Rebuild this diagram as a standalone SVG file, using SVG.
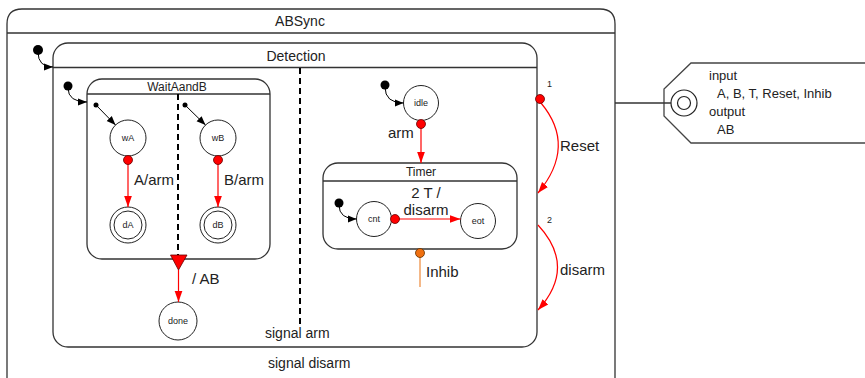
<svg xmlns="http://www.w3.org/2000/svg" width="865" height="378" viewBox="0 0 865 378">
<style>
text{font-family:"Liberation Sans",Arial,sans-serif;fill:#222}
.box{fill:none;stroke:#333;stroke-width:1.3}
.st{fill:#fff;stroke:#222;stroke-width:1}
.lbl{font-size:9px;text-anchor:middle}
.t15{font-size:15px}
.t14{font-size:14px}
.init{fill:#000}
.blk{fill:none;stroke:#000;stroke-width:1}
.red{fill:none;stroke:#f00;stroke-width:1.2}
.rdot{fill:#f00;stroke:#600;stroke-width:0.8}
.dash{stroke:#000;stroke-width:2;stroke-dasharray:6,4}
</style>
<defs>
<marker id="ab" viewBox="0 0 10 10" refX="10" refY="5" markerWidth="9" markerHeight="9" markerUnits="userSpaceOnUse" orient="auto"><path d="M0,1 L10,5 L0,9 z" fill="#000"/></marker>
<marker id="ar" viewBox="0 0 10 10" refX="10" refY="5" markerWidth="11" markerHeight="11" markerUnits="userSpaceOnUse" orient="auto"><path d="M0,1.5 L10,5 L0,8.5 z" fill="#f00"/></marker>
</defs>

<g id="ABSync">
<path class="box" d="M7,390 V24 Q7,9 22,9 H600 Q615,9 615,24 V390"/>
<line class="box" x1="7" y1="33" x2="615" y2="33"/>
<text x="300" y="26" class="t14" text-anchor="middle">ABSync</text>
<text x="268" y="368" class="t14">signal disarm</text>
</g>

<g id="Detection">
<rect class="box" x="53" y="43" width="484" height="304" rx="15"/>
<line class="box" x1="53" y1="67.5" x2="537" y2="67.5"/>
<text x="296" y="61" class="t14" text-anchor="middle">Detection</text>
<line class="dash" x1="300" y1="68" x2="300" y2="327"/>
<text x="265" y="338" class="t14">signal arm</text>
</g>

<g id="WaitAandB">
<rect class="box" x="87" y="79" width="183" height="180" rx="15"/>
<line class="box" x1="87" y1="94" x2="270" y2="94"/>
<text x="177" y="91" font-size="12" text-anchor="middle">WaitAandB</text>
<line class="dash" x1="178" y1="94" x2="178" y2="256"/>
</g>

<g id="wA"><circle class="st" cx="128" cy="138" r="18"/><text class="lbl" x="128" y="141">wA</text></g>
<g id="wB"><circle class="st" cx="218" cy="138" r="18"/><text class="lbl" x="218" y="141">wB</text></g>
<g id="dA"><circle class="st" cx="128" cy="225" r="18"/><circle class="st" cx="128" cy="225" r="14"/><text class="lbl" x="128" y="228">dA</text></g>
<g id="dB"><circle class="st" cx="218" cy="225" r="18"/><circle class="st" cx="218" cy="225" r="14"/><text class="lbl" x="218" y="228">dB</text></g>
<g id="done"><circle class="st" cx="178" cy="321" r="19"/><text class="lbl" x="178" y="324">done</text></g>
<g id="idle"><circle class="st" cx="421" cy="103" r="17.5"/><text class="lbl" x="421" y="106">idle</text></g>

<g id="Timer">
<rect class="box" x="323" y="163" width="194" height="86" rx="15"/>
<line class="box" x1="323" y1="181" x2="517" y2="181"/>
<text x="421" y="176" font-size="12" text-anchor="middle">Timer</text>
</g>
<g id="cnt"><circle class="st" cx="374" cy="219" r="17.5"/><text class="lbl" x="374" y="222">cnt</text></g>
<g id="eot"><circle class="st" cx="478" cy="221" r="17.5"/><text class="lbl" x="478" y="224">eot</text></g>

<g id="interface">
<path d="M865,63 H691 L664,89 V116 L691,143 H865" fill="none" stroke="#444" stroke-width="1.3"/>
<circle cx="684" cy="103" r="13" fill="#fff" stroke="#222" stroke-width="1.2"/>
<circle cx="684" cy="103" r="6.5" fill="#fff" stroke="#222" stroke-width="1.2"/>
<text x="709" y="80" font-size="13">input</text>
<text x="717" y="98" font-size="13">A, B, T, Reset, Inhib</text>
<text x="709" y="116" font-size="13">output</text>
<text x="717" y="134" font-size="13">AB</text>
</g>

<g id="connectors">
<circle class="init" cx="38" cy="50" r="5"/>
<path class="blk" d="M38,52 Q38,67 53,67" marker-end="url(#ab)"/>
<circle class="init" cx="68" cy="86" r="4.5"/>
<path class="blk" d="M68,88 Q68,102 87,102" marker-end="url(#ab)"/>
<circle class="init" cx="96" cy="105" r="2.5"/>
<line class="blk" x1="96" y1="105" x2="115.5" y2="125" marker-end="url(#ab)"/>
<circle class="init" cx="185" cy="105" r="2.5"/>
<line class="blk" x1="185" y1="105" x2="205.5" y2="125" marker-end="url(#ab)"/>
<circle class="init" cx="385" cy="85" r="4.5"/>
<path class="blk" d="M385,87 Q385,103 403.5,103" marker-end="url(#ab)"/>
<circle class="init" cx="339" cy="203" r="4.5"/>
<path class="blk" d="M339,205 Q339,219 356.5,219" marker-end="url(#ab)"/>

<line class="red" x1="128" y1="164" x2="128" y2="207" marker-end="url(#ar)"/>
<circle class="rdot" cx="128" cy="160" r="4.5"/>
<text x="134" y="185" class="t15">A/arm</text>
<line class="red" x1="218" y1="164" x2="218" y2="207" marker-end="url(#ar)"/>
<circle class="rdot" cx="218" cy="160" r="4.5"/>
<text x="224" y="185" class="t15">B/arm</text>

<polygon points="170.5,255 187,255 178.5,270" fill="#f00" stroke="#600" stroke-width="0.8"/>
<line class="red" x1="178.5" y1="270" x2="178.5" y2="302" marker-end="url(#ar)"/>
<text x="192" y="284" class="t15">/ AB</text>

<line class="red" x1="421" y1="128" x2="421" y2="163" marker-end="url(#ar)"/>
<circle class="rdot" cx="421" cy="124" r="4.5"/>
<text x="388" y="138" class="t15">arm</text>

<line class="red" x1="399" y1="219" x2="460.5" y2="219" marker-end="url(#ar)"/>
<circle class="rdot" cx="395" cy="219" r="4.5"/>
<text x="426" y="198" class="t15" text-anchor="middle">2 T /</text>
<text x="426" y="215" class="t15" text-anchor="middle">disarm</text>

<line x1="420" y1="257" x2="420" y2="287" stroke="#f0a060" stroke-width="1.5"/>
<circle cx="420" cy="253" r="4.5" fill="#f07010" stroke="#603000" stroke-width="0.8"/>
<text x="426" y="277" class="t15">Inhib</text>

<path class="red" d="M541,103 Q577,146 538,193" marker-end="url(#ar)"/>
<circle class="rdot" cx="540" cy="99" r="4.5"/>
<text x="547" y="87" font-size="9">1</text>
<text x="560" y="151" class="t15">Reset</text>
<path class="red" d="M538,225 Q577,267 538,310" marker-end="url(#ar)"/>
<text x="547" y="223" font-size="9">2</text>
<text x="560" y="275" class="t15">disarm</text>

<line x1="615" y1="103" x2="671" y2="103" stroke="#333" stroke-width="1.3"/>
</g>
</svg>
